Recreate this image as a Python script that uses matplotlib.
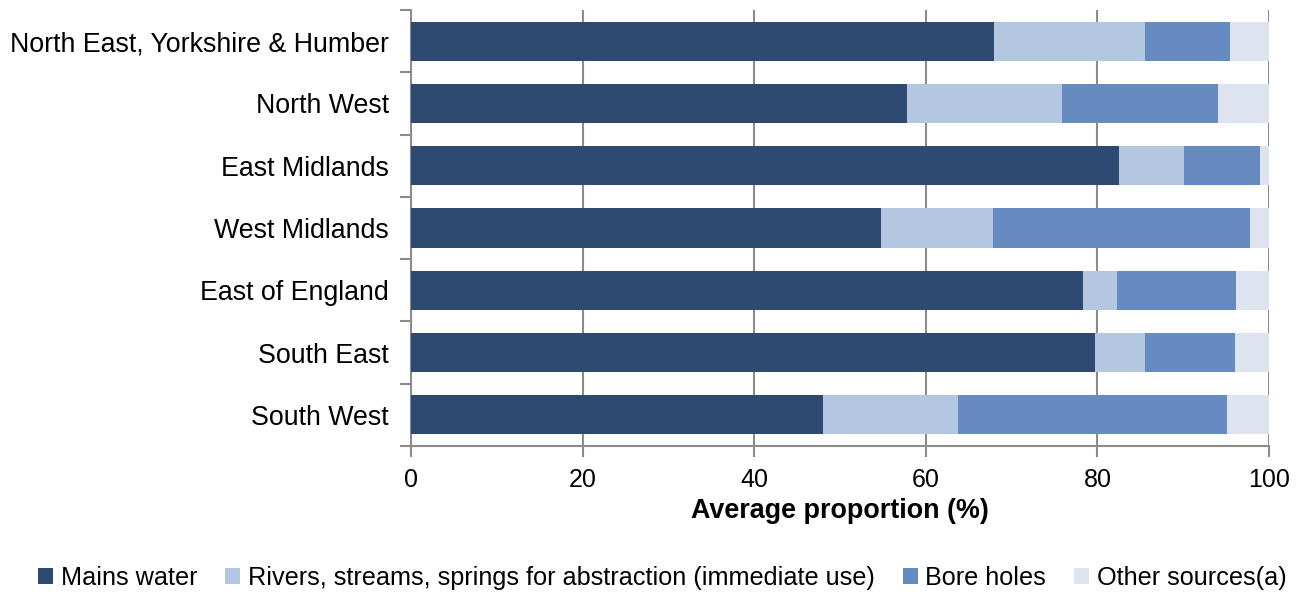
import matplotlib.pyplot as plt
import numpy as np

plt.rcParams['font.family'] = ['Liberation Sans', 'DejaVu Sans']

regions = ["North East, Yorkshire & Humber", "North West", "East Midlands",
           "West Midlands", "East of England", "South East", "South West"]
mains = [67.9, 57.8, 82.5, 54.8, 78.3, 79.7, 48.0]
rivers = [17.6, 18.1, 7.6, 13.0, 4.0, 5.8, 15.8]
bore = [10.0, 18.2, 8.8, 30.0, 13.9, 10.5, 31.3]
other = [4.5, 5.9, 1.1, 2.2, 3.8, 4.0, 4.9]

series = [("Mains water", mains, "#2e4a70"),
          ("Rivers, streams, springs for abstraction (immediate use)", rivers, "#b3c7e0"),
          ("Bore holes", bore, "#658bc0"),
          ("Other sources(a)", other, "#dde4f0")]

fig = plt.figure(figsize=(13.09, 5.92), dpi=100)
ax = fig.add_axes([411 / 1309, 1 - 446 / 592, 858 / 1309, 436 / 592])

y = np.arange(len(regions))
left = np.zeros(len(regions))
for name, vals, col in series:
    ax.barh(y, vals, left=left, height=0.63, color=col, label=name, zorder=3)
    left += np.array(vals)

ax.set_ylim(len(regions) - 0.5, -0.5)
ax.set_yticks(y)
ax.set_yticklabels(regions, fontsize=19.3)
ax.set_yticks(np.arange(len(regions) + 1) - 0.5, minor=True)
ax.tick_params(axis='y', which='major', length=0, pad=16)
ax.tick_params(axis='y', which='minor', length=8, width=1.5, color='#8c8c8c')

ax.set_xlim(0, 100)
ax.set_xticks(np.arange(0, 101, 20))
ax.tick_params(axis='x', labelsize=18, length=8, width=1.5, color='#8c8c8c', pad=8)
ax.set_xlabel("Average proportion (%)", fontsize=19.4, fontweight='bold', labelpad=4)
ax.grid(axis='x', color='#8c8c8c', linewidth=1.5, zorder=0)

for s in ['top', 'right']:
    ax.spines[s].set_visible(False)
for s in ['left', 'bottom']:
    ax.spines[s].set_color('#8c8c8c')
    ax.spines[s].set_linewidth(1.5)

fig.legend(loc='lower center', bbox_to_anchor=(0.506, -0.035), ncol=4, frameon=False,
           fontsize=18.2, handlelength=0.6, handleheight=0.6, handletextpad=0.3,
           columnspacing=1.1)

fig.savefig("out.png", dpi=100)
